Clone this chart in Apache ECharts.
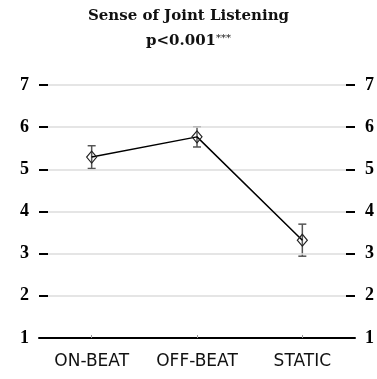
<!DOCTYPE html>
<html>
<head>
<meta charset="utf-8">
<title>Sense of Joint Listening</title>
<script src="https://cdn.jsdelivr.net/npm/echarts@6/dist/echarts.min.js"></script>
<style>
  html, body { margin: 0; padding: 0; background: #fff; }
  #chart { width: 377px; height: 379px; }
</style>
</head>
<body>
<div id="chart"></div>
<script>
// Condition labels and rating summary (mean ± error) on a 1–7 scale
const categories = ['ON-BEAT', 'OFF-BEAT', 'STATIC'];
const means = [5.29, 5.77, 3.32];
const errors = [0.27, 0.24, 0.38];
const yTicks = [1, 2, 3, 4, 5, 6, 7];

const serif = '"Liberation Serif", "DejaVu Serif", serif';
const titleSerif = '"DejaVu Serif", "Liberation Serif", serif';
const sans = '"DejaVu Sans", sans-serif';

const errorData = categories.map((c, i) => [i, means[i] - errors[i], means[i] + errors[i]]);

function yAxisCfg(position, withGrid) {
  return {
    type: 'value',
    position: position,
    min: yTicks[0],
    max: yTicks[yTicks.length - 1],
    interval: 1,
    axisLine: { show: false },
    axisTick: { show: true, inside: true, length: 9, lineStyle: { color: '#000', width: 2 } },
    axisLabel: {
      margin: 10,
      fontFamily: serif, fontWeight: 'bold', fontSize: 18, color: '#000'
    },
    splitLine: { show: withGrid, lineStyle: { color: '#dcdcdc', width: 1.5 } },
    z: 3
  };
}

const chart = echarts.init(document.getElementById('chart'), null, { renderer: 'canvas' });
chart.setOption({
  animation: false,
  backgroundColor: '#fff',
  title: {
    text: '{t|Sense of Joint Listening}\n{p|p<0.001}{s|***}',
    left: 'center',
    top: -1,
    textStyle: {
      rich: {
        t: { fontFamily: titleSerif, fontWeight: 'bold', fontSize: 15, color: '#111', lineHeight: 25 },
        p: { fontFamily: titleSerif, fontWeight: 'bold', fontSize: 15, color: '#111', lineHeight: 25 },
        s: { fontFamily: titleSerif, fontWeight: 'normal', fontSize: 10, color: '#111', lineHeight: 25, verticalAlign: 'top', padding: [4, 0, 0, 0] }
      }
    }
  },
  grid: { left: 39, right: 22, top: 85, bottom: 41, containLabel: false },
  xAxis: {
    type: 'category',
    data: categories,
    boundaryGap: true,
    axisLine: { show: true, lineStyle: { color: '#000', width: 2 } },
    axisTick: { show: true, inside: true, alignWithLabel: true, length: 3, lineStyle: { color: '#999', width: 1 } },
    axisLabel: { interval: 0, hideOverlap: false, margin: 15, fontFamily: sans, fontSize: 17, color: '#111' },
    splitLine: { show: false },
    z: 4
  },
  yAxis: [yAxisCfg('left', true), yAxisCfg('right', false)],
  series: [
    {
      type: 'custom',
      name: 'error',
      yAxisIndex: 0,
      data: errorData,
      z: 2,
      renderItem: function (params, api) {
        const x = api.value(0);
        const lo = api.coord([x, api.value(1)]);
        const hi = api.coord([x, api.value(2)]);
        const cap = 4;
        const style = { stroke: '#555', lineWidth: 1.5, fill: null };
        return {
          type: 'group',
          children: [
            { type: 'line', shape: { x1: lo[0], y1: lo[1], x2: hi[0], y2: hi[1] }, style: style },
            { type: 'line', shape: { x1: hi[0] - cap, y1: hi[1], x2: hi[0] + cap, y2: hi[1] }, style: style },
            { type: 'line', shape: { x1: lo[0] - cap, y1: lo[1], x2: lo[0] + cap, y2: lo[1] }, style: style }
          ]
        };
      }
    },
    {
      type: 'line',
      name: 'mean',
      yAxisIndex: 0,
      data: means,
      symbol: 'diamond',
      symbolSize: [10, 12],
      showAllSymbol: true,
      itemStyle: { color: 'rgba(0,0,0,0)', borderColor: '#222', borderWidth: 1.2 },
      lineStyle: { color: '#000', width: 1.5 },
      z: 3
    }
  ]
});
</script>
</body>
</html>
